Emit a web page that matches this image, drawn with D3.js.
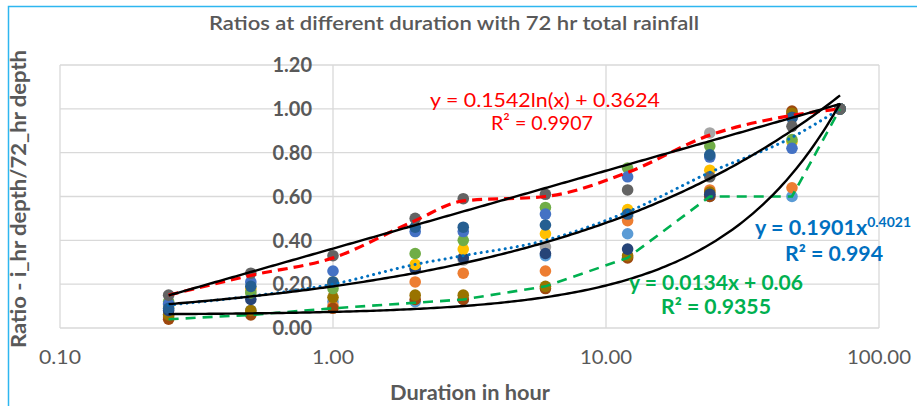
<!DOCTYPE html>
<html><head><meta charset="utf-8">
<script src="https://cdn.jsdelivr.net/npm/d3@7"></script>
<style>body{margin:0;background:#fff}svg{display:block}text{font-family:Lato,"Open Sans",sans-serif}</style>
</head><body><svg id="c" width="917" height="406"></svg>
<script>
const durations = [0.25, 0.5, 1, 2, 3, 6, 12, 24, 48, 72];
const seriesColors = ["#A5A5A5","#5B9BD5","#ED7D31","#9E480E","#997300","#264478","#FFC000","#70AD47","#4472C4","#255E91","#636363"];
const sLightGray = [0.11, 0.17, 0.20, 0.27, 0.31, 0.37, 0.51, 0.89, 0.97, 1.0];
const sLightBlue = [0.06, 0.08, 0.12, 0.12, 0.13, 0.33, 0.43, 0.60, 0.60, 1.0];
const sOrange    = [0.05, 0.07, 0.10, 0.21, 0.25, 0.26, 0.49, 0.63, 0.64, 1.0];
const sBrown     = [0.04, 0.06, 0.09, 0.13, 0.13, 0.18, 0.32, 0.60, 0.99, 1.0];
const sOlive     = [0.06, 0.08, 0.14, 0.15, 0.15, 0.19, 0.33, 0.62, 0.98, 1.0];
const sNavy      = [0.08, 0.13, 0.20, 0.27, 0.32, 0.34, 0.36, 0.61, 0.96, 1.0];
const sGold      = [0.10, 0.18, 0.21, 0.29, 0.36, 0.43, 0.54, 0.72, 0.85, 1.0];
const sGreen     = [0.12, 0.16, 0.18, 0.34, 0.40, 0.55, 0.73, 0.83, 0.86, 1.0];
const sBlue      = [0.11, 0.21, 0.26, 0.44, 0.44, 0.52, 0.69, 0.78, 0.82, 1.0];
const sDarkBlue  = [0.09, 0.19, 0.21, 0.46, 0.46, 0.47, 0.52, 0.79, 0.96, 1.0];
const sDarkGray  = [0.15, 0.25, 0.33, 0.50, 0.59, 0.61, 0.63, 0.69, 0.92, 1.0];
const seriesValues = [sLightGray, sLightBlue, sOrange, sBrown, sOlive, sNavy, sGold, sGreen, sBlue, sDarkBlue, sDarkGray];
const maxValues  = [0.15, 0.24, 0.32, 0.49, 0.58, 0.60, 0.71, 0.88, 0.97, 1.0];
const meanValues = [0.105, 0.145, 0.20, 0.29, 0.33, 0.40, 0.53, 0.71, 0.87, 1.0];
const minValues  = [0.04, 0.06, 0.09, 0.115, 0.13, 0.19, 0.32, 0.60, 0.60, 1.0];
const logTrend = [0.1542, 0.3624];
const powTrend = [0.1901, 0.4021];
const linTrend = [0.0134, 0.06];
const xTicks = [0.1, 1, 10, 100];
const yTicks = [0, 0.2, 0.4, 0.6, 0.8, 1.0, 1.2];
const title = "Ratios at different duration with 72 hr total rainfall";
const xTitle = "Duration in hour";
const yTitle = "Ratio - i_hr depth/72_hr depth";

const svg = d3.select("#c");
const x = d3.scaleLog().domain([0.1, 100]).range([60, 879]);
const y = d3.scaleLinear().domain([0, 1.2]).range([328, 65]);

// frame
svg.append("rect").attr("x", 8.5).attr("y", 6.5).attr("width", 1000).attr("height", 600)
  .attr("fill", "none").attr("stroke", "#2EB6F0").attr("stroke-width", 1.5);

// gridlines
svg.append("g").selectAll("line").data(yTicks).join("line")
  .attr("x1", x(0.1)).attr("x2", x(100)).attr("y1", d => y(d)).attr("y2", d => y(d))
  .attr("stroke", "#D9D9D9").attr("stroke-width", 1.3);
svg.append("g").selectAll("line").data(xTicks).join("line")
  .attr("y1", y(0)).attr("y2", y(1.2)).attr("x1", d => x(d)).attr("x2", d => x(d))
  .attr("stroke", "#D9D9D9").attr("stroke-width", 1.3);

// axis labels
svg.append("g").selectAll("text").data(yTicks).join("text")
  .attr("x", x(1) - 21).attr("y", d => y(d)).attr("dy", "0.36em").attr("text-anchor", "end")
  .attr("fill", "#595959").attr("font-size", 20).attr("font-weight", "bold")
  .text(d => d3.format(".2f")(d));
svg.append("g").selectAll("text").data(xTicks).join("text")
  .attr("x", d => x(d)).attr("y", 357).attr("dy", "0.36em").attr("text-anchor", "middle")
  .attr("fill", "#595959").attr("font-size", 19)
  .attr("textLength", d => d < 10 ? 42 : (d < 100 ? 52 : 64)).attr("lengthAdjust", "spacingAndGlyphs")
  .text(d => d3.format(".2f")(d));

svg.append("text").attr("x", 454).attr("y", 23).attr("dy", "0.36em").attr("text-anchor", "middle")
  .attr("fill", "#595959").attr("font-size", 20).attr("font-weight", 600)
  .attr("textLength", 490).attr("lengthAdjust", "spacingAndGlyphs").text(title);
svg.append("text").attr("x", 470).attr("y", 393).attr("dy", "0.36em").attr("text-anchor", "middle")
  .attr("fill", "#595959").attr("font-size", 20).attr("font-weight", "bold")
  .attr("textLength", 160).attr("lengthAdjust", "spacingAndGlyphs").text(xTitle);
svg.append("text").attr("transform", "translate(19,199) rotate(-90)").attr("dy", "0.36em")
  .attr("text-anchor", "middle").attr("fill", "#595959").attr("font-size", 20).attr("font-weight", "bold")
  .attr("textLength", 298).attr("lengthAdjust", "spacingAndGlyphs").text(yTitle);

// points
seriesValues.forEach((vals, i) => {
  svg.append("g").selectAll("circle").data(vals).join("circle")
    .attr("cx", (d, j) => x(durations[j])).attr("cy", d => y(d)).attr("r", 5.8)
    .attr("fill", seriesColors[i]);
});

// envelope lines
const smooth = d3.line().x((d, j) => x(durations[j])).y(d => y(d)).curve(d3.curveMonotoneX);
const straight = d3.line().x((d, j) => x(durations[j])).y(d => y(d));
svg.append("path").attr("d", smooth(maxValues)).attr("fill", "none").attr("stroke", "#FF0000")
  .attr("stroke-width", 3.2).attr("stroke-dasharray", "10,6");
svg.append("path").attr("d", smooth(meanValues)).attr("fill", "none").attr("stroke", "#0070C0")
  .attr("stroke-width", 3).attr("stroke-dasharray", "0.1,6").attr("stroke-linecap", "round");
svg.append("path").attr("d", straight(minValues)).attr("fill", "none").attr("stroke", "#00B050")
  .attr("stroke-width", 2.6).attr("stroke-dasharray", "10,7");

// trendlines
const tx = d3.range(0, 201).map(i => Math.exp(Math.log(0.25) + i / 200 * (Math.log(72) - Math.log(0.25))));
const trendLine = d3.line().x(d => x(d[0])).y(d => y(d[1]));
const trends = [
  tx.map(t => [t, logTrend[0] * Math.log(t) + logTrend[1]]),
  tx.map(t => [t, powTrend[0] * Math.pow(t, powTrend[1])]),
  tx.map(t => [t, linTrend[0] * t + linTrend[1]])
];
svg.append("g").selectAll("path").data(trends).join("path")
  .attr("d", trendLine).attr("fill", "none").attr("stroke", "#000").attr("stroke-width", 2.4);

// equation labels
function eq(xp, yp, color, weight, len, parts) {
  const t = svg.append("text").attr("x", xp).attr("y", yp).attr("dy", "0.36em").attr("text-anchor", "middle")
    .attr("fill", color).attr("font-size", 20).attr("font-weight", weight)
    .attr("textLength", len).attr("lengthAdjust", "spacingAndGlyphs");
  parts.forEach(p => {
    const s = t.append("tspan").text(p.t);
    if (p.sup) s.attr("font-size", 13).attr("dy", "-0.6em");
  });
}
eq(545, 100, "#FF0000", "normal", 230, [{t: "y = 0.1542ln(x) + 0.3624"}]);
eq(542, 123, "#FF0000", "normal", 102, [{t: "R² = 0.9907"}]);
eq(833, 228, "#0070C0", "bold", 156, [{t: "y = 0.1901x"}, {t: "0.4021", sup: true}]);
eq(834, 254, "#0070C0", "bold", 98, [{t: "R² = 0.994"}]);
eq(716, 283, "#00B050", "bold", 174, [{t: "y = 0.0134x + 0.06"}]);
eq(716, 307, "#00B050", "bold", 110, [{t: "R² = 0.9355"}]);
</script></body></html>
